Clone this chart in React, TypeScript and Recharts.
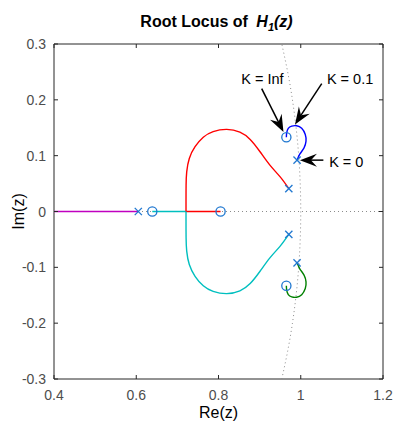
import React from 'react';
import { ScatterChart, Scatter, XAxis, YAxis } from 'recharts';

const FONT = '"Liberation Sans", Arial, Helvetica, sans-serif';
const AXIS = '#262626';
const TICKTXT = '#4d4d4d';
const MARK = '#1f77d0';

const xTicks = [0.4, 0.6, 0.8, 1, 1.2];
const xTickLabels = ['0.4', '0.6', '0.8', '1', '1.2'];
const yTicks = [-0.3, -0.2, -0.1, 0, 0.1, 0.2, 0.3];
const yTickLabels = ['-0.3', '-0.2', '-0.1', '0', '0.1', '0.2', '0.3'];

const poles = [
  { x: 0.605, y: 0 },
  { x: 0.971, y: 0.041 },
  { x: 0.971, y: -0.041 },
  { x: 0.991, y: 0.092 },
  { x: 0.991, y: -0.092 },
];
const zeros = [
  { x: 0.639, y: 0 },
  { x: 0.805, y: 0 },
  { x: 0.965, y: 0.133 },
  { x: 0.965, y: -0.133 },
];

const realAxis = [{ x: 0.4, y: 0 }, { x: 1.2, y: 0 }];
const unitCircle = [
  { x: 0.9539, y: -0.3 }, { x: 0.9682, y: -0.25 }, { x: 0.9798, y: -0.2 },
  { x: 0.9887, y: -0.15 }, { x: 0.995, y: -0.1 }, { x: 0.9987, y: -0.05 },
  { x: 1.0, y: 0 }, { x: 0.9987, y: 0.05 }, { x: 0.995, y: 0.1 },
  { x: 0.9887, y: 0.15 }, { x: 0.9798, y: 0.2 }, { x: 0.9682, y: 0.25 },
  { x: 0.9539, y: 0.3 },
];

const magentaBranch = [{ x: 0.605, y: 0 }, { x: 0.4, y: 0 }];

const redCurve = [
  { x: 0.971, y: 0.041 }, { x: 0.95, y: 0.062 }, { x: 0.925, y: 0.083 },
  { x: 0.901, y: 0.107 }, { x: 0.877, y: 0.129 }, { x: 0.852, y: 0.142 },
  { x: 0.82, y: 0.147 }, { x: 0.787, y: 0.143 }, { x: 0.763, y: 0.133 },
  { x: 0.743, y: 0.116 }, { x: 0.729, y: 0.095 }, { x: 0.7227, y: 0.071 },
  { x: 0.7212, y: 0.047 }, { x: 0.721, y: 0.018 }, { x: 0.721, y: 0 },
];
const redAxis = [{ x: 0.721, y: 0 }, { x: 0.805, y: 0 }];

const cyanCurve = [
  { x: 0.971, y: -0.041 }, { x: 0.95, y: -0.062 }, { x: 0.925, y: -0.083 },
  { x: 0.901, y: -0.107 }, { x: 0.877, y: -0.129 }, { x: 0.852, y: -0.142 },
  { x: 0.82, y: -0.147 }, { x: 0.787, y: -0.143 }, { x: 0.763, y: -0.133 },
  { x: 0.743, y: -0.116 }, { x: 0.729, y: -0.095 }, { x: 0.7227, y: -0.071 },
  { x: 0.7212, y: -0.047 }, { x: 0.721, y: -0.018 }, { x: 0.721, y: 0 },
];
const cyanAxis = [{ x: 0.721, y: 0 }, { x: 0.639, y: 0 }];

const blueCurve = [
  { x: 0.991, y: 0.092 }, { x: 0.998, y: 0.103 }, { x: 1.008, y: 0.114 },
  { x: 1.0128, y: 0.126 }, { x: 1.011, y: 0.138 }, { x: 1.0023, y: 0.149 },
  { x: 0.99, y: 0.1536 }, { x: 0.978, y: 0.153 }, { x: 0.9697, y: 0.149 },
  { x: 0.9658, y: 0.141 }, { x: 0.965, y: 0.133 },
];
const greenCurve = [
  { x: 0.991, y: -0.092 }, { x: 0.998, y: -0.103 }, { x: 1.008, y: -0.114 },
  { x: 1.0128, y: -0.126 }, { x: 1.011, y: -0.138 }, { x: 1.0023, y: -0.149 },
  { x: 0.99, y: -0.1536 }, { x: 0.978, y: -0.153 }, { x: 0.9697, y: -0.149 },
  { x: 0.9658, y: -0.141 }, { x: 0.965, y: -0.133 },
];

const arrowInf = [{ x: 0.905, y: 0.22 }, { x: 0.958, y: 0.1425 }];
const arrow01 = [{ x: 1.051, y: 0.229 }, { x: 0.986, y: 0.156 }];
const arrow0 = [{ x: 1.055, y: 0.092 }, { x: 0.998, y: 0.092 }];

const annotations = [
  { x: 0.907, y: 0.237, label: 'K = Inf', anchor: 'middle' },
  { x: 1.12, y: 0.238, label: 'K = 0.1', anchor: 'middle' },
  { x: 1.069, y: 0.089, label: 'K = 0', anchor: 'start' },
];

const NoDot = () => <g />;

const PoleMark = (p: any) => {
  const s = 3.6;
  return (
    <g stroke={MARK} strokeWidth={1.3}>
      <line x1={p.cx - s} y1={p.cy - s} x2={p.cx + s} y2={p.cy + s} />
      <line x1={p.cx - s} y1={p.cy + s} x2={p.cx + s} y2={p.cy - s} />
    </g>
  );
};
const ZeroMark = (p: any) => (
  <circle cx={p.cx} cy={p.cy} r={4.6} fill="none" stroke={MARK} strokeWidth={1.3} />
);

const TextMark = (p: any) => (
  <text x={p.cx} y={p.cy} dy={5} textAnchor={p.payload.anchor} fontSize={14.5} fontFamily={FONT} fill="#000">
    {p.payload.label}
  </text>
);

const ArrowShape = (props: any) => {
  const pts = props.points;
  if (!pts || pts.length < 2) return null;
  const a = pts[0];
  const b = pts[1];
  const dx = b.x - a.x;
  const dy = b.y - a.y;
  const len = Math.hypot(dx, dy) || 1;
  const ux = dx / len;
  const uy = dy / len;
  const nx = -uy;
  const ny = ux;
  const L = 17;
  const W = 6.5;
  const N = 11;
  const w1x = b.x - ux * L + nx * W;
  const w1y = b.y - uy * L + ny * W;
  const w2x = b.x - ux * L - nx * W;
  const w2y = b.y - uy * L - ny * W;
  const ntx = b.x - ux * N;
  const nty = b.y - uy * N;
  return (
    <g>
      <line x1={a.x} y1={a.y} x2={ntx} y2={nty} stroke="#000" strokeWidth={1.5} />
      <polygon points={`${b.x},${b.y} ${w1x},${w1y} ${ntx},${nty} ${w2x},${w2y}`} fill="#000" />
    </g>
  );
};

const BottomTick = (p: any) => {
  const i = xTicks.indexOf(p.payload.value);
  return (
    <g>
      <line x1={p.x} x2={p.x} y1={p.y} y2={p.y - 4} stroke={AXIS} strokeWidth={1} />
      <text x={p.x} y={p.y + 21} textAnchor="middle" fontSize={14} fontFamily={FONT} fill={TICKTXT}>
        {xTickLabels[i]}
      </text>
    </g>
  );
};
const TopTick = (p: any) => (
  <line x1={p.x} x2={p.x} y1={p.y} y2={p.y + 4} stroke={AXIS} strokeWidth={1} />
);
const LeftTick = (p: any) => {
  const i = yTicks.indexOf(p.payload.value);
  return (
    <g>
      <line x1={p.x} x2={p.x + 4} y1={p.y} y2={p.y} stroke={AXIS} strokeWidth={1} />
      <text x={p.x - 8} y={p.y + 5} textAnchor="end" fontSize={14} fontFamily={FONT} fill={TICKTXT}>
        {yTickLabels[i]}
      </text>
    </g>
  );
};
const RightTick = (p: any) => (
  <line x1={p.x} x2={p.x - 4} y1={p.y} y2={p.y} stroke={AXIS} strokeWidth={1} />
);

const TitleLabel = (p: any) => {
  const vb = p.viewBox || { x: 54, y: 43, width: 329, height: 1 };
  const cx = vb.x + vb.width / 2 - 2;
  const y = vb.y + (vb.height || 0) - 17;
  return (
    <text x={cx} y={y} textAnchor="middle" fontFamily={FONT} fontSize={16} fontWeight="bold" fill="#000">
      <tspan>Root Locus of </tspan>
      <tspan fontStyle="italic" dx={4}>H</tspan>
      <tspan fontStyle="italic" fontSize={11} dy={4}>1</tspan>
      <tspan fontStyle="italic" dy={-4}>(z)</tspan>
    </text>
  );
};
const XLabel = (p: any) => {
  const vb = p.viewBox || { x: 54, y: 379, width: 329, height: 44 };
  return (
    <text x={vb.x + vb.width / 2} y={vb.y + 39} textAnchor="middle" fontFamily={FONT} fontSize={16} fill="#000">
      Re(z)
    </text>
  );
};
const YLabel = (p: any) => {
  const vb = p.viewBox || { x: 0, y: 44, width: 54, height: 335 };
  const x = vb.x + 24;
  const y = vb.y + vb.height / 2;
  return (
    <text x={x} y={y} transform={`rotate(-90 ${x} ${y})`} textAnchor="middle" fontFamily={FONT} fontSize={16} fill="#000">
      Im(z)
    </text>
  );
};

const lineSeries = (data: any[], color: string, key: string, joint = 'natural') => (
  <Scatter
    key={key}
    data={data}
    shape={NoDot}
    line={{ stroke: color, strokeWidth: 1.4 }}
    lineType="joint"
    lineJointType={joint as any}
    isAnimationActive={false}
  />
);

export default function App() {
  return (
    <div style={{ position: 'absolute', left: 0, top: 0, background: '#fff' }}>
      <ScatterChart width={394} height={423} margin={{ top: 43, right: 10, bottom: 0, left: 0 }}>
        <XAxis
          type="number"
          dataKey="x"
          domain={[0.4, 1.2]}
          ticks={xTicks}
          interval={0}
          allowDataOverflow
          height={44}
          tickSize={0}
          tickMargin={0}
          tick={BottomTick}
          axisLine={{ stroke: AXIS }}
          label={<XLabel />}
        />
        <XAxis
          xAxisId="top"
          orientation="top"
          type="number"
          dataKey="x"
          domain={[0.4, 1.2]}
          ticks={xTicks}
          interval={0}
          allowDataOverflow
          height={1}
          tickSize={0}
          tickMargin={0}
          tick={TopTick}
          axisLine={{ stroke: AXIS }}
          label={<TitleLabel />}
        />
        <YAxis
          type="number"
          dataKey="y"
          domain={[-0.3, 0.3]}
          ticks={yTicks}
          interval={0}
          allowDataOverflow
          width={54}
          tickSize={0}
          tickMargin={0}
          tick={LeftTick}
          axisLine={{ stroke: AXIS }}
          label={<YLabel />}
        />
        <YAxis
          yAxisId="right"
          orientation="right"
          type="number"
          dataKey="y"
          domain={[-0.3, 0.3]}
          ticks={yTicks}
          interval={0}
          allowDataOverflow
          width={1}
          tickSize={0}
          tickMargin={0}
          tick={RightTick}
          axisLine={{ stroke: AXIS }}
        />
        <Scatter
          xAxisId="top"
          yAxisId="right"
          data={realAxis}
          shape={NoDot}
          line={{ stroke: '#8c8c8c', strokeWidth: 1, strokeDasharray: '1 3' }}
          lineType="joint"
          isAnimationActive={false}
        />
        <Scatter
          data={unitCircle}
          shape={NoDot}
          line={{ stroke: '#8c8c8c', strokeWidth: 1, strokeDasharray: '1 3' }}
          lineType="joint"
          lineJointType="natural"
          isAnimationActive={false}
        />
        {lineSeries(magentaBranch, '#c000c0', 'm', 'linear')}
        {lineSeries(cyanAxis, '#00bfbf', 'ca', 'linear')}
        {lineSeries(redAxis, '#ff0000', 'ra', 'linear')}
        {lineSeries(redCurve, '#ff0000', 'rc')}
        {lineSeries(cyanCurve, '#00bfbf', 'cc')}
        {lineSeries(blueCurve, '#0000ff', 'bc')}
        {lineSeries(greenCurve, '#008000', 'gc')}
        <Scatter data={poles} shape={PoleMark} isAnimationActive={false} />
        <Scatter data={zeros} shape={ZeroMark} isAnimationActive={false} />
        <Scatter data={arrowInf} shape={NoDot} line={<ArrowShape />} lineType="joint" isAnimationActive={false} />
        <Scatter data={arrow01} shape={NoDot} line={<ArrowShape />} lineType="joint" isAnimationActive={false} />
        <Scatter data={arrow0} shape={NoDot} line={<ArrowShape />} lineType="joint" isAnimationActive={false} />
        <Scatter data={annotations} shape={TextMark} isAnimationActive={false} />
      </ScatterChart>
    </div>
  );
}
